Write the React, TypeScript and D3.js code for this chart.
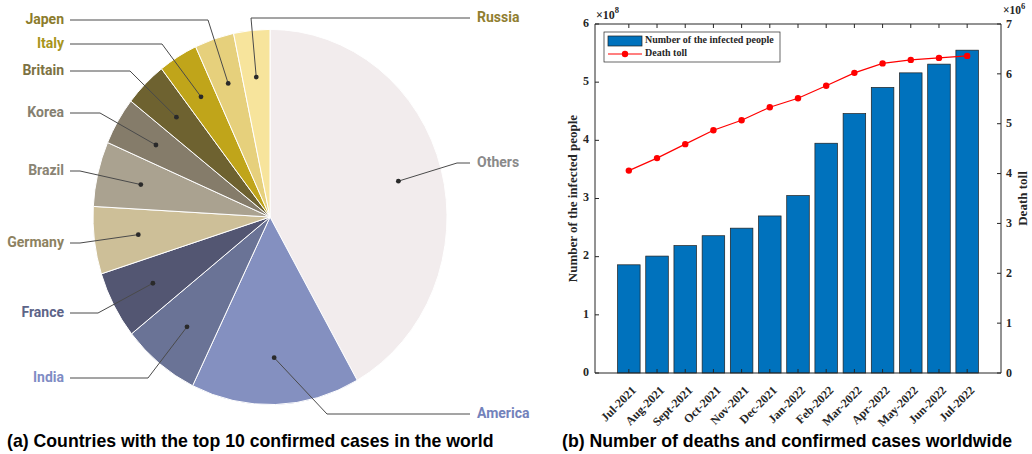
import React from "react";
import * as d3 from "d3";

// ---------- data ----------
const countries = ["Others", "America", "India", "France", "Germany", "Brazil", "Korea", "Britain", "Italy", "Japen", "Russia"];
const shares = [41.8, 15.4, 7.1, 5.8, 5.8, 5.6, 4.1, 3.9, 3.6, 3.6, 3.3];

const months = ["Jul-2021", "Aug-2021", "Sept-2021", "Oct-2021", "Nov-2021", "Dec-2021", "Jan-2022", "Feb-2022", "Mar-2022", "Apr-2022", "May-2022", "Jun-2022", "Jul-2022"];
const infected = [1.86, 2.01, 2.19, 2.36, 2.49, 2.7, 3.05, 3.95, 4.46, 4.91, 5.16, 5.31, 5.55]; // x10^8
const deaths = [4.06, 4.31, 4.59, 4.87, 5.07, 5.33, 5.51, 5.76, 6.02, 6.21, 6.28, 6.32, 6.36]; // x10^6
const leftTicks = [0, 1, 2, 3, 4, 5, 6];
const rightTicks = [0, 1, 2, 3, 4, 5, 6, 7];

// ---------- styles / layout ----------
const sliceColors = ["#f2eced", "#8490c0", "#6a7396", "#535672", "#cdbf98", "#aaa290", "#857c6a", "#6e6230", "#c0a51a", "#e6d07c", "#f7e49c"];
const labelColors = ["#8a8a8a", "#7382bb", "#7f8cc4", "#5d6488", "#8d8260", "#8a8474", "#858070", "#7d7243", "#a8951c", "#8c7c2c", "#907e30"];
// side, label y, elbow x
const labelLayout: { side: "left" | "right"; y: number; ex: number }[] = [
  { side: "right", y: 163, ex: 457 },
  { side: "right", y: 414, ex: 327 },
  { side: "left", y: 378, ex: 148 },
  { side: "left", y: 313, ex: 98 },
  { side: "left", y: 243, ex: 80 },
  { side: "left", y: 171, ex: 80 },
  { side: "left", y: 113, ex: 100 },
  { side: "left", y: 71, ex: 130 },
  { side: "left", y: 44, ex: 162 },
  { side: "left", y: 20, ex: 208 },
  { side: "right", y: 18, ex: 251 },
];

const CX = 270, CY = 217, R = 177, SY = 1.06;
const serif = "'Liberation Serif', 'Times New Roman', serif";
const sans = "'Liberation Sans', Arial, sans-serif";

export default function App() {
  const pie = d3.pie<number>().sort(null).startAngle(0).endAngle(2 * Math.PI);
  const arcs = pie(shares);
  const arcGen = d3.arc<d3.PieArcDatum<number>>().innerRadius(0).outerRadius(R);

  // bar chart scales
  const x = d3.scaleBand<string>().domain(months).range([595, 1001]).paddingInner(0.2).paddingOuter(0.8);
  const yL = d3.scaleLinear().domain([0, 6]).range([373, 24]);
  const yR = d3.scaleLinear().domain([0, 7]).range([373, 24]);
  const cx = (m: string) => (x(m) as number) + x.bandwidth() / 2;
  const lineGen = d3.line<number>().x((_, i) => cx(months[i])).y((d) => yR(d));
  const [x0, x1] = x.range();
  const [yb, yt] = yL.range();
  const ym = (yb + yt) / 2;

  return (
    <svg width={1032} height={454} style={{ position: "absolute", left: 0, top: 0, background: "#fff" }}>
      {/* ---------- pie ---------- */}
      <g transform={`translate(${CX},${CY}) scale(1,${SY})`}>
        {arcs.map((a, i) => (
          <path key={i} d={arcGen(a) as string} fill={sliceColors[i]} stroke="#ffffff" strokeWidth={1} vectorEffect="non-scaling-stroke" />
        ))}
      </g>
      {arcs.map((a, i) => {
        const mid = (a.startAngle + a.endAngle) / 2;
        const dx = CX + Math.sin(mid) * R * 0.75;
        const dy = CY - Math.cos(mid) * R * 0.75 * SY;
        const L = labelLayout[i];
        const endX = L.side === "left" ? 70 : 470;
        const pts = `${dx},${dy} ${L.ex},${L.y} ${endX},${L.y}`;
        return (
          <g key={i}>
            <polyline points={pts} fill="none" stroke="#4a4a4a" strokeWidth={1} />
            <circle cx={dx} cy={dy} r={2.4} fill="#2a2a2a" />
            <text
              x={L.side === "left" ? 64 : 477}
              y={L.y}
              textAnchor={L.side === "left" ? "end" : "start"}
              dominantBaseline="middle"
              fontFamily="Roboto, 'Noto Sans', sans-serif"
              fontWeight={700}
              fontSize={14}
              fill={labelColors[i]}
            >
              {countries[i]}
            </text>
          </g>
        );
      })}
      <text x={7} y={447} fontFamily={sans} fontWeight={700} fontSize={17.7} fill="#000">
        (a) Countries with the top 10 confirmed cases in the world
      </text>

      {/* ---------- bar + line chart ---------- */}
      {months.map((m, i) => (
        <rect key={m} x={x(m)} y={yL(infected[i])} width={x.bandwidth()} height={yb - yL(infected[i])} fill="#0072BD" stroke="#1e1e1e" strokeWidth={0.7} />
      ))}
      <path d={lineGen(deaths) as string} fill="none" stroke="#ff0000" strokeWidth={1.2} />
      {deaths.map((d, i) => (
        <circle key={i} cx={cx(months[i])} cy={yR(d)} r={3.2} fill="#ff0000" />
      ))}

      {/* axes box */}
      <g stroke="#262626" strokeWidth={1} fill="none">
        <line x1={x0} y1={yb} x2={x1} y2={yb} />
        <line x1={x0} y1={yt} x2={x1} y2={yt} />
        <line x1={x0} y1={yb} x2={x0} y2={yt} />
        <line x1={x1} y1={yb} x2={x1} y2={yt} />
        {months.map((m) => (
          <g key={m}>
            <line x1={cx(m)} y1={yb} x2={cx(m)} y2={yb - 4} />
            <line x1={cx(m)} y1={yt} x2={cx(m)} y2={yt + 4} />
          </g>
        ))}
        {leftTicks.map((t) => (
          <line key={t} x1={x0} y1={yL(t)} x2={x0 + 4} y2={yL(t)} />
        ))}
        {rightTicks.map((t) => (
          <line key={t} x1={x1} y1={yR(t)} x2={x1 - 4} y2={yR(t)} />
        ))}
      </g>
      <g fontFamily={serif} fontWeight={700} fontSize={12} fill="#262626">
        {leftTicks.map((t) => (
          <text key={t} x={x0 - 6} y={yL(t)} textAnchor="end" dominantBaseline="middle">{t}</text>
        ))}
        {rightTicks.map((t) => (
          <text key={t} x={x1 + 5} y={yR(t) + 1} textAnchor="start" dominantBaseline="middle">{t}</text>
        ))}
        {months.map((m) => (
          <text key={m} x={cx(m) + 8} y={yb + 18} textAnchor="end" fontSize={12} transform={`rotate(-45 ${cx(m) + 8} ${yb + 18})`}>{m}</text>
        ))}
      </g>
      {/* exponents */}
      <g fontFamily={serif} fontWeight={700} fill="#262626">
        <text x={596} y={19} fontSize={12}>×10<tspan dy={-6} fontSize={8.5}>8</tspan></text>
        <text x={1003} y={14} fontSize={11.5}>×10<tspan dy={-5} fontSize={8.5}>6</tspan></text>
      </g>
      {/* axis titles */}
      <text x={574} y={ym} transform={`rotate(-90 574 ${ym})`} textAnchor="middle" dominantBaseline="middle" fontFamily={serif} fontWeight={700} fontSize={13} fill="#262626">
        Number of the infected people
      </text>
      <text x={1024} y={ym} transform={`rotate(-90 1024 ${ym})`} textAnchor="middle" dominantBaseline="middle" fontFamily={serif} fontWeight={700} fontSize={13} fill="#262626">
        Death toll
      </text>
      {/* legend */}
      <rect x={604} y={32} width={176} height={30} fill="#fff" stroke="#262626" strokeWidth={0.7} />
      <rect x={608} y={36} width={34} height={10} fill="#0072BD" stroke="#1e1e1e" strokeWidth={0.7} />
      <line x1={608} y1={54} x2={642} y2={54} stroke="#ff0000" strokeWidth={1.2} />
      <circle cx={625} cy={54} r={3.2} fill="#ff0000" />
      <g fontFamily={serif} fontWeight={700} fontSize={10} fill="#262626">
        <text x={645} y={41} dominantBaseline="middle">Number of the infected people</text>
        <text x={645} y={54} dominantBaseline="middle">Death toll</text>
      </g>
      <text x={562} y={447} fontFamily={sans} fontWeight={700} fontSize={17.7} fill="#000">
        (b) Number of deaths and confirmed cases worldwide
      </text>
    </svg>
  );
}
